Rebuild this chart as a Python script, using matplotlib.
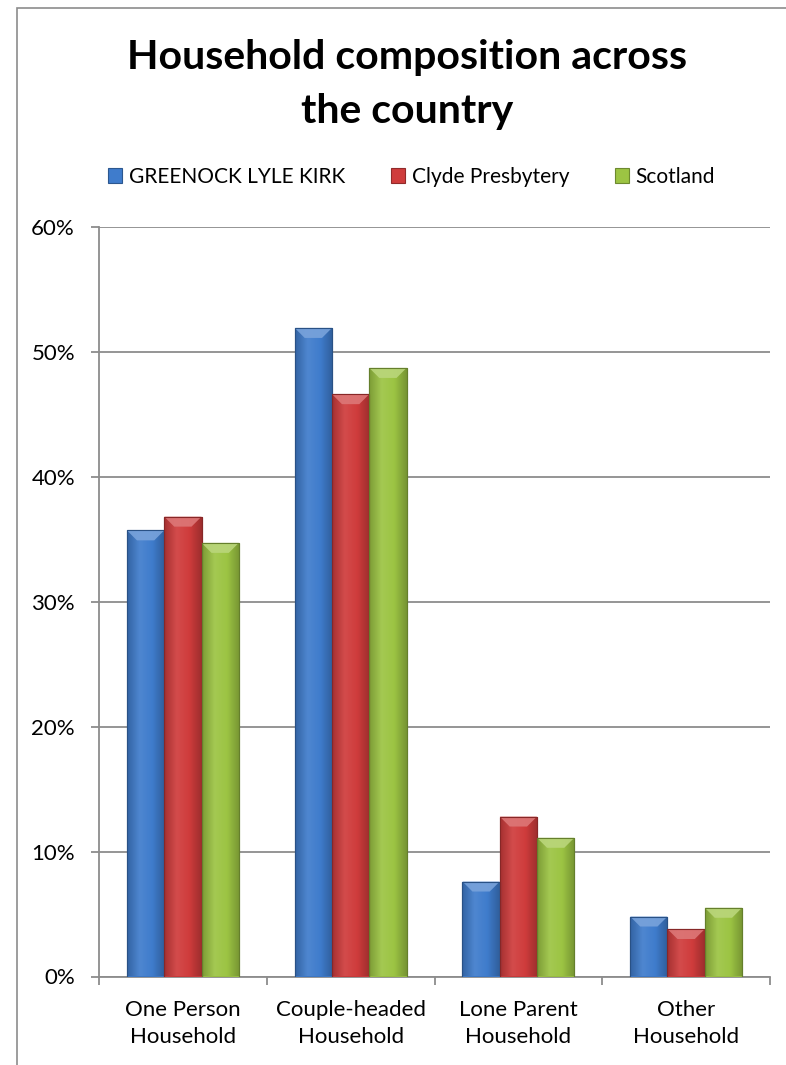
import numpy as np
import matplotlib
matplotlib.use("Agg")
import matplotlib.pyplot as plt
from matplotlib.colors import LinearSegmentedColormap, to_rgb
from matplotlib.patches import Rectangle, Polygon
from matplotlib.ticker import FuncFormatter, MultipleLocator

plt.rcParams["font.family"] = ["Lato", "DejaVu Sans"]

categories = ["One Person\nHousehold", "Couple-headed\nHousehold",
              "Lone Parent\nHousehold", "Other\nHousehold"]
series = ["GREENOCK LYLE KIRK", "Clyde Presbytery", "Scotland"]
greenock = [35.7, 51.9, 7.6, 4.8]
clyde = [36.8, 46.6, 12.8, 3.8]
scotland = [34.7, 48.7, 11.1, 5.5]
title_lines = ["Household composition across", "the country"]

l_color = ["#3f7ccc", "#cf3c3c", "#9cc443"]
grid_grey = "#8c8c8c"


def shade(c, f):
    r = np.array(to_rgb(c))
    if f < 1:
        return tuple(r * f)
    return tuple(r + (1 - r) * (f - 1))


W, H = 786, 1065
fig = plt.figure(figsize=(W / 100, H / 100), dpi=100)
ax = fig.add_axes([99 / W, 1 - 976.5 / H, (770 - 99) / W, (976.5 - 226.7) / H])

# outer chart border (cropped at right/bottom)
fig.patches.append(Rectangle((17 / W, -0.1), 1.2, 1 - 7.5 / H + 0.1,
                             transform=fig.transFigure, fill=False,
                             edgecolor="#8c8c8c", linewidth=1.2))

x = np.arange(len(categories))
width = 1 / 4.5
all_vals = [greenock, clyde, scotland]
bars = []
for i, vals in enumerate(all_vals):
    b = ax.bar(x + (i - 1) * width, vals, width, color=l_color[i],
               edgecolor=shade(l_color[i], 0.7), linewidth=0.8, label=series[i], zorder=3)
    bars.append(b)

ax.set_xlim(-0.5, 3.5)
ax.set_ylim(0, 60)

# gradients and top bevel
for i, b in enumerate(bars):
    c = l_color[i]
    cmap = LinearSegmentedColormap.from_list(
        "g%d" % i, [shade(c, 0.8), shade(c, 1.08), shade(c, 1.0), shade(c, 0.76)])
    grad = np.linspace(0, 1, 64).reshape(1, -1)
    for p in b.patches:
        x0, y0 = p.get_x(), p.get_y()
        w, h = p.get_width(), p.get_height()
        im = ax.imshow(grad, cmap=cmap, extent=(x0, x0 + w, y0, y0 + h),
                       aspect="auto", zorder=3.1, interpolation="bicubic")
        im.set_clip_path(p)
        # bevel in pixel space
        (px0, py1), (px1, _) = ax.transData.transform([(x0, y0 + h), (x0 + w, y0 + h)])
        d = 10
        pts = ax.transData.inverted().transform(
            [(px0, py1), (px1, py1), (px1 - d, py1 - d), (px0 + d, py1 - d)])
        ax.add_patch(Polygon(pts, closed=True, facecolor=shade(c, 1.3),
                             edgecolor="none", zorder=3.2, alpha=0.9))
        ax.add_patch(Rectangle((x0, y0), w, h, fill=False,
                               edgecolor=shade(c, 0.65), linewidth=0.8, zorder=3.3))

ax.yaxis.set_major_locator(MultipleLocator(10))
ax.yaxis.set_major_formatter(FuncFormatter(lambda v, _: f"{v:.0f}%"))
ax.grid(axis="y", color=grid_grey, linewidth=1.3, zorder=0)
ax.set_axisbelow(True)

ax.set_xticks(np.arange(-0.5, 4, 1))
ax.set_xticklabels([])
ax.set_xticks(x, minor=True)
ax.set_xticklabels(categories, minor=True, fontsize=16, linespacing=1.45)
ax.tick_params(axis="x", which="minor", length=0, pad=17)
ax.tick_params(axis="x", which="major", length=5.8, color=grid_grey, width=1.3, direction="out")
ax.tick_params(axis="y", length=5.8, color=grid_grey, width=1.3, labelsize=16, pad=11.5)

for s in ["top", "right"]:
    ax.spines[s].set_visible(False)
for s in ["left", "bottom"]:
    ax.spines[s].set_color(grid_grey)
    ax.spines[s].set_linewidth(1.3)

# two-line title, baselines at 69 and 123 px
for line, base in zip(title_lines, [69, 123]):
    fig.text(407.5 / W, 1 - base / H, line, ha="center", va="baseline",
             fontsize=29.5, fontweight="bold")

fig.legend(handles=[b[0] for b in bars], labels=series, loc="center",
           bbox_to_anchor=(411.5 / W, 1 - 177 / H), ncol=3, frameon=False, fontsize=15,
           handlelength=0.7, handleheight=0.7, handletextpad=0.3, columnspacing=2.2,
           borderaxespad=0, borderpad=0)

fig.savefig("out.png", dpi=100)
